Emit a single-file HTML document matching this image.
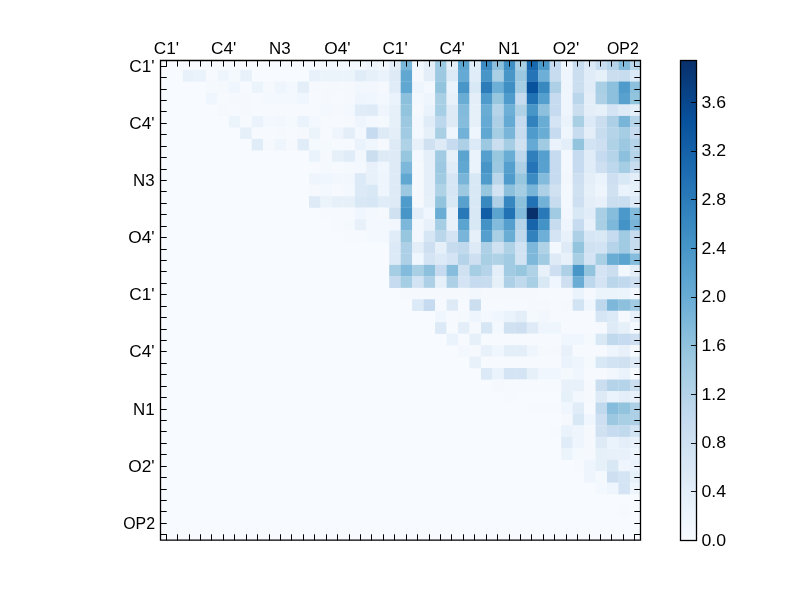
<!DOCTYPE html>
<html><head><meta charset="utf-8"><style>
html,body{margin:0;padding:0;background:#fff;width:800px;height:600px;overflow:hidden}
svg{display:block}
</style></head><body>
<svg width="800" height="600" viewBox="0 0 800 600">
<defs><clipPath id="ax"><rect x="160" y="60" width="480" height="480"/></clipPath></defs>
<rect x="160" y="60" width="480" height="480" fill="#f7fbff"/>
<g clip-path="url(#ax)"><rect x="320.47" y="58.60" width="11.66" height="11.66" fill="#f2f8fd"/><rect x="331.93" y="58.60" width="11.66" height="11.66" fill="#f2f8fd"/><rect x="343.39" y="58.60" width="11.66" height="11.66" fill="#f3f8fe"/><rect x="354.85" y="58.60" width="11.66" height="11.66" fill="#f2f8fd"/><rect x="366.31" y="58.60" width="11.66" height="11.66" fill="#eef5fc"/><rect x="377.78" y="58.60" width="11.66" height="11.66" fill="#f2f7fd"/><rect x="389.24" y="58.60" width="11.66" height="11.66" fill="#e3eef9"/><rect x="400.70" y="58.60" width="11.66" height="11.66" fill="#79b5d9"/><rect x="412.16" y="58.60" width="11.66" height="11.66" fill="#f0f6fd"/><rect x="423.62" y="58.60" width="11.66" height="11.66" fill="#e3eef9"/><rect x="435.09" y="58.60" width="11.66" height="11.66" fill="#9cc9e1"/><rect x="446.55" y="58.60" width="11.66" height="11.66" fill="#e3eef9"/><rect x="458.01" y="58.60" width="11.66" height="11.66" fill="#5ca4d0"/><rect x="469.47" y="58.60" width="11.66" height="11.66" fill="#e0ecf8"/><rect x="480.93" y="58.60" width="11.66" height="11.66" fill="#3c8cc3"/><rect x="492.40" y="58.60" width="11.66" height="11.66" fill="#8cc0dd"/><rect x="503.86" y="58.60" width="11.66" height="11.66" fill="#3f8fc5"/><rect x="515.32" y="58.60" width="11.66" height="11.66" fill="#a9cfe5"/><rect x="526.78" y="58.60" width="11.66" height="11.66" fill="#1967ad"/><rect x="538.24" y="58.60" width="11.66" height="11.66" fill="#4b98ca"/><rect x="549.70" y="58.60" width="11.66" height="11.66" fill="#c6dbef"/><rect x="561.17" y="58.60" width="11.66" height="11.66" fill="#eef5fc"/><rect x="572.63" y="58.60" width="11.66" height="11.66" fill="#c8dcf0"/><rect x="584.09" y="58.60" width="11.66" height="11.66" fill="#dce9f6"/><rect x="595.55" y="58.60" width="11.66" height="11.66" fill="#c8dcf0"/><rect x="607.01" y="58.60" width="11.66" height="11.66" fill="#b5d4e9"/><rect x="618.48" y="58.60" width="11.66" height="11.66" fill="#82bbdb"/><rect x="629.94" y="58.60" width="11.66" height="11.66" fill="#b9d6ea"/><rect x="182.92" y="70.06" width="11.66" height="11.66" fill="#e8f1fa"/><rect x="194.39" y="70.06" width="11.66" height="11.66" fill="#eaf3fb"/><rect x="205.85" y="70.06" width="11.66" height="11.66" fill="#f6faff"/><rect x="217.31" y="70.06" width="11.66" height="11.66" fill="#eef5fc"/><rect x="228.77" y="70.06" width="11.66" height="11.66" fill="#f4f9fe"/><rect x="240.23" y="70.06" width="11.66" height="11.66" fill="#e8f1fa"/><rect x="309.00" y="70.06" width="11.66" height="11.66" fill="#e8f1fa"/><rect x="320.47" y="70.06" width="11.66" height="11.66" fill="#ecf4fb"/><rect x="331.93" y="70.06" width="11.66" height="11.66" fill="#ecf4fb"/><rect x="343.39" y="70.06" width="11.66" height="11.66" fill="#ecf4fb"/><rect x="354.85" y="70.06" width="11.66" height="11.66" fill="#e0ecf8"/><rect x="366.31" y="70.06" width="11.66" height="11.66" fill="#e6f0f9"/><rect x="377.78" y="70.06" width="11.66" height="11.66" fill="#eaf3fb"/><rect x="389.24" y="70.06" width="11.66" height="11.66" fill="#deebf7"/><rect x="400.70" y="70.06" width="11.66" height="11.66" fill="#60a7d2"/><rect x="412.16" y="70.06" width="11.66" height="11.66" fill="#f5f9fe"/><rect x="423.62" y="70.06" width="11.66" height="11.66" fill="#e3eef9"/><rect x="435.09" y="70.06" width="11.66" height="11.66" fill="#9cc9e1"/><rect x="446.55" y="70.06" width="11.66" height="11.66" fill="#dce9f6"/><rect x="458.01" y="70.06" width="11.66" height="11.66" fill="#65aad4"/><rect x="469.47" y="70.06" width="11.66" height="11.66" fill="#e0ecf8"/><rect x="480.93" y="70.06" width="11.66" height="11.66" fill="#4896c8"/><rect x="492.40" y="70.06" width="11.66" height="11.66" fill="#a9cfe5"/><rect x="503.86" y="70.06" width="11.66" height="11.66" fill="#4896c8"/><rect x="515.32" y="70.06" width="11.66" height="11.66" fill="#9cc9e1"/><rect x="526.78" y="70.06" width="11.66" height="11.66" fill="#2474b7"/><rect x="538.24" y="70.06" width="11.66" height="11.66" fill="#6dafd7"/><rect x="549.70" y="70.06" width="11.66" height="11.66" fill="#c8dcf0"/><rect x="561.17" y="70.06" width="11.66" height="11.66" fill="#eef5fc"/><rect x="572.63" y="70.06" width="11.66" height="11.66" fill="#cadef0"/><rect x="584.09" y="70.06" width="11.66" height="11.66" fill="#e0ecf8"/><rect x="595.55" y="70.06" width="11.66" height="11.66" fill="#e6f0f9"/><rect x="607.01" y="70.06" width="11.66" height="11.66" fill="#cadef0"/><rect x="618.48" y="70.06" width="11.66" height="11.66" fill="#c8dcf0"/><rect x="629.94" y="70.06" width="11.66" height="11.66" fill="#dce9f6"/><rect x="205.85" y="81.52" width="11.66" height="11.66" fill="#f4f9fe"/><rect x="217.31" y="81.52" width="11.66" height="11.66" fill="#f5f9fe"/><rect x="228.77" y="81.52" width="11.66" height="11.66" fill="#f0f6fd"/><rect x="240.23" y="81.52" width="11.66" height="11.66" fill="#f6faff"/><rect x="251.70" y="81.52" width="11.66" height="11.66" fill="#ecf4fb"/><rect x="263.16" y="81.52" width="11.66" height="11.66" fill="#f5f9fe"/><rect x="274.62" y="81.52" width="11.66" height="11.66" fill="#eef5fc"/><rect x="286.08" y="81.52" width="11.66" height="11.66" fill="#f3f8fe"/><rect x="297.54" y="81.52" width="11.66" height="11.66" fill="#e3eef9"/><rect x="309.00" y="81.52" width="11.66" height="11.66" fill="#f5f9fe"/><rect x="320.47" y="81.52" width="11.66" height="11.66" fill="#f5f9fe"/><rect x="331.93" y="81.52" width="11.66" height="11.66" fill="#f5f9fe"/><rect x="343.39" y="81.52" width="11.66" height="11.66" fill="#f5f9fe"/><rect x="354.85" y="81.52" width="11.66" height="11.66" fill="#f2f7fd"/><rect x="366.31" y="81.52" width="11.66" height="11.66" fill="#f2f7fd"/><rect x="377.78" y="81.52" width="11.66" height="11.66" fill="#f5f9fe"/><rect x="389.24" y="81.52" width="11.66" height="11.66" fill="#e0ecf8"/><rect x="400.70" y="81.52" width="11.66" height="11.66" fill="#60a7d2"/><rect x="412.16" y="81.52" width="11.66" height="11.66" fill="#eef5fc"/><rect x="423.62" y="81.52" width="11.66" height="11.66" fill="#f2f8fd"/><rect x="435.09" y="81.52" width="11.66" height="11.66" fill="#92c4de"/><rect x="446.55" y="81.52" width="11.66" height="11.66" fill="#eaf3fb"/><rect x="458.01" y="81.52" width="11.66" height="11.66" fill="#4896c8"/><rect x="469.47" y="81.52" width="11.66" height="11.66" fill="#d9e8f5"/><rect x="480.93" y="81.52" width="11.66" height="11.66" fill="#2c7cba"/><rect x="492.40" y="81.52" width="11.66" height="11.66" fill="#6dafd7"/><rect x="503.86" y="81.52" width="11.66" height="11.66" fill="#3f8fc5"/><rect x="515.32" y="81.52" width="11.66" height="11.66" fill="#a5cde3"/><rect x="526.78" y="81.52" width="11.66" height="11.66" fill="#08519c"/><rect x="538.24" y="81.52" width="11.66" height="11.66" fill="#3989c1"/><rect x="549.70" y="81.52" width="11.66" height="11.66" fill="#add0e6"/><rect x="561.17" y="81.52" width="11.66" height="11.66" fill="#eef5fc"/><rect x="572.63" y="81.52" width="11.66" height="11.66" fill="#cadef0"/><rect x="584.09" y="81.52" width="11.66" height="11.66" fill="#e0ecf8"/><rect x="595.55" y="81.52" width="11.66" height="11.66" fill="#a9cfe5"/><rect x="607.01" y="81.52" width="11.66" height="11.66" fill="#8cc0dd"/><rect x="618.48" y="81.52" width="11.66" height="11.66" fill="#4f9bcb"/><rect x="629.94" y="81.52" width="11.66" height="11.66" fill="#8cc0dd"/><rect x="205.85" y="92.99" width="11.66" height="11.66" fill="#f0f6fd"/><rect x="217.31" y="92.99" width="11.66" height="11.66" fill="#f6faff"/><rect x="228.77" y="92.99" width="11.66" height="11.66" fill="#f5f9fe"/><rect x="240.23" y="92.99" width="11.66" height="11.66" fill="#f5f9fe"/><rect x="251.70" y="92.99" width="11.66" height="11.66" fill="#f6faff"/><rect x="263.16" y="92.99" width="11.66" height="11.66" fill="#f3f8fe"/><rect x="274.62" y="92.99" width="11.66" height="11.66" fill="#f2f8fd"/><rect x="286.08" y="92.99" width="11.66" height="11.66" fill="#f2f8fd"/><rect x="297.54" y="92.99" width="11.66" height="11.66" fill="#f0f6fd"/><rect x="309.00" y="92.99" width="11.66" height="11.66" fill="#f6faff"/><rect x="320.47" y="92.99" width="11.66" height="11.66" fill="#f5f9fe"/><rect x="331.93" y="92.99" width="11.66" height="11.66" fill="#f6faff"/><rect x="343.39" y="92.99" width="11.66" height="11.66" fill="#f5f9fe"/><rect x="354.85" y="92.99" width="11.66" height="11.66" fill="#eef5fc"/><rect x="366.31" y="92.99" width="11.66" height="11.66" fill="#f0f6fd"/><rect x="377.78" y="92.99" width="11.66" height="11.66" fill="#f3f8fe"/><rect x="389.24" y="92.99" width="11.66" height="11.66" fill="#eaf3fb"/><rect x="400.70" y="92.99" width="11.66" height="11.66" fill="#8cc0dd"/><rect x="412.16" y="92.99" width="11.66" height="11.66" fill="#f3f8fe"/><rect x="423.62" y="92.99" width="11.66" height="11.66" fill="#eef5fc"/><rect x="435.09" y="92.99" width="11.66" height="11.66" fill="#a9cfe5"/><rect x="446.55" y="92.99" width="11.66" height="11.66" fill="#e8f1fa"/><rect x="458.01" y="92.99" width="11.66" height="11.66" fill="#69add5"/><rect x="469.47" y="92.99" width="11.66" height="11.66" fill="#e3eef9"/><rect x="480.93" y="92.99" width="11.66" height="11.66" fill="#4f9bcb"/><rect x="492.40" y="92.99" width="11.66" height="11.66" fill="#97c6df"/><rect x="503.86" y="92.99" width="11.66" height="11.66" fill="#4f9bcb"/><rect x="515.32" y="92.99" width="11.66" height="11.66" fill="#c6dbef"/><rect x="526.78" y="92.99" width="11.66" height="11.66" fill="#2171b5"/><rect x="538.24" y="92.99" width="11.66" height="11.66" fill="#549fcd"/><rect x="549.70" y="92.99" width="11.66" height="11.66" fill="#c6dbef"/><rect x="561.17" y="92.99" width="11.66" height="11.66" fill="#eef5fc"/><rect x="572.63" y="92.99" width="11.66" height="11.66" fill="#b9d6ea"/><rect x="584.09" y="92.99" width="11.66" height="11.66" fill="#e3eef9"/><rect x="595.55" y="92.99" width="11.66" height="11.66" fill="#add0e6"/><rect x="607.01" y="92.99" width="11.66" height="11.66" fill="#8cc0dd"/><rect x="618.48" y="92.99" width="11.66" height="11.66" fill="#58a1cf"/><rect x="629.94" y="92.99" width="11.66" height="11.66" fill="#92c4de"/><rect x="217.31" y="104.45" width="11.66" height="11.66" fill="#f5f9fe"/><rect x="228.77" y="104.45" width="11.66" height="11.66" fill="#f6faff"/><rect x="240.23" y="104.45" width="11.66" height="11.66" fill="#f5f9fe"/><rect x="251.70" y="104.45" width="11.66" height="11.66" fill="#f6faff"/><rect x="263.16" y="104.45" width="11.66" height="11.66" fill="#f6faff"/><rect x="274.62" y="104.45" width="11.66" height="11.66" fill="#f6faff"/><rect x="286.08" y="104.45" width="11.66" height="11.66" fill="#f6faff"/><rect x="297.54" y="104.45" width="11.66" height="11.66" fill="#f6faff"/><rect x="309.00" y="104.45" width="11.66" height="11.66" fill="#f6faff"/><rect x="320.47" y="104.45" width="11.66" height="11.66" fill="#f2f8fd"/><rect x="331.93" y="104.45" width="11.66" height="11.66" fill="#f5f9fe"/><rect x="343.39" y="104.45" width="11.66" height="11.66" fill="#f3f8fe"/><rect x="354.85" y="104.45" width="11.66" height="11.66" fill="#e0ecf8"/><rect x="366.31" y="104.45" width="11.66" height="11.66" fill="#deebf7"/><rect x="377.78" y="104.45" width="11.66" height="11.66" fill="#eef5fc"/><rect x="389.24" y="104.45" width="11.66" height="11.66" fill="#e6f0f9"/><rect x="400.70" y="104.45" width="11.66" height="11.66" fill="#92c4de"/><rect x="412.16" y="104.45" width="11.66" height="11.66" fill="#f5f9fe"/><rect x="423.62" y="104.45" width="11.66" height="11.66" fill="#eaf3fb"/><rect x="435.09" y="104.45" width="11.66" height="11.66" fill="#a6cee4"/><rect x="446.55" y="104.45" width="11.66" height="11.66" fill="#deebf7"/><rect x="458.01" y="104.45" width="11.66" height="11.66" fill="#82bbdb"/><rect x="469.47" y="104.45" width="11.66" height="11.66" fill="#e6f0f9"/><rect x="480.93" y="104.45" width="11.66" height="11.66" fill="#69add5"/><rect x="492.40" y="104.45" width="11.66" height="11.66" fill="#b5d4e9"/><rect x="503.86" y="104.45" width="11.66" height="11.66" fill="#6dafd7"/><rect x="515.32" y="104.45" width="11.66" height="11.66" fill="#b0d2e7"/><rect x="526.78" y="104.45" width="11.66" height="11.66" fill="#4896c8"/><rect x="538.24" y="104.45" width="11.66" height="11.66" fill="#8cc0dd"/><rect x="549.70" y="104.45" width="11.66" height="11.66" fill="#c6dbef"/><rect x="561.17" y="104.45" width="11.66" height="11.66" fill="#eef5fc"/><rect x="572.63" y="104.45" width="11.66" height="11.66" fill="#cadef0"/><rect x="584.09" y="104.45" width="11.66" height="11.66" fill="#e3eef9"/><rect x="595.55" y="104.45" width="11.66" height="11.66" fill="#e6f0f9"/><rect x="607.01" y="104.45" width="11.66" height="11.66" fill="#d4e4f4"/><rect x="618.48" y="104.45" width="11.66" height="11.66" fill="#deebf7"/><rect x="629.94" y="104.45" width="11.66" height="11.66" fill="#e3eef9"/><rect x="228.77" y="115.91" width="11.66" height="11.66" fill="#ecf4fb"/><rect x="240.23" y="115.91" width="11.66" height="11.66" fill="#f6faff"/><rect x="251.70" y="115.91" width="11.66" height="11.66" fill="#eaf3fb"/><rect x="263.16" y="115.91" width="11.66" height="11.66" fill="#f3f8fe"/><rect x="274.62" y="115.91" width="11.66" height="11.66" fill="#f2f7fd"/><rect x="286.08" y="115.91" width="11.66" height="11.66" fill="#f4f9fe"/><rect x="297.54" y="115.91" width="11.66" height="11.66" fill="#eaf3fb"/><rect x="309.00" y="115.91" width="11.66" height="11.66" fill="#f3f8fe"/><rect x="320.47" y="115.91" width="11.66" height="11.66" fill="#f6faff"/><rect x="331.93" y="115.91" width="11.66" height="11.66" fill="#f6faff"/><rect x="343.39" y="115.91" width="11.66" height="11.66" fill="#f5f9fe"/><rect x="354.85" y="115.91" width="11.66" height="11.66" fill="#eef5fc"/><rect x="366.31" y="115.91" width="11.66" height="11.66" fill="#f3f8fe"/><rect x="377.78" y="115.91" width="11.66" height="11.66" fill="#f4f9fe"/><rect x="389.24" y="115.91" width="11.66" height="11.66" fill="#e6f0f9"/><rect x="400.70" y="115.91" width="11.66" height="11.66" fill="#9cc9e1"/><rect x="412.16" y="115.91" width="11.66" height="11.66" fill="#f2f8fd"/><rect x="423.62" y="115.91" width="11.66" height="11.66" fill="#e0ecf8"/><rect x="435.09" y="115.91" width="11.66" height="11.66" fill="#bdd7ec"/><rect x="446.55" y="115.91" width="11.66" height="11.66" fill="#deebf7"/><rect x="458.01" y="115.91" width="11.66" height="11.66" fill="#87bddc"/><rect x="469.47" y="115.91" width="11.66" height="11.66" fill="#e6f0f9"/><rect x="480.93" y="115.91" width="11.66" height="11.66" fill="#65aad4"/><rect x="492.40" y="115.91" width="11.66" height="11.66" fill="#add0e6"/><rect x="503.86" y="115.91" width="11.66" height="11.66" fill="#65aad4"/><rect x="515.32" y="115.91" width="11.66" height="11.66" fill="#c6dbef"/><rect x="526.78" y="115.91" width="11.66" height="11.66" fill="#3282be"/><rect x="538.24" y="115.91" width="11.66" height="11.66" fill="#69add5"/><rect x="549.70" y="115.91" width="11.66" height="11.66" fill="#d4e4f4"/><rect x="561.17" y="115.91" width="11.66" height="11.66" fill="#eaf3fb"/><rect x="572.63" y="115.91" width="11.66" height="11.66" fill="#a9cfe5"/><rect x="584.09" y="115.91" width="11.66" height="11.66" fill="#dce9f6"/><rect x="595.55" y="115.91" width="11.66" height="11.66" fill="#cadef0"/><rect x="607.01" y="115.91" width="11.66" height="11.66" fill="#add0e6"/><rect x="618.48" y="115.91" width="11.66" height="11.66" fill="#79b5d9"/><rect x="629.94" y="115.91" width="11.66" height="11.66" fill="#b5d4e9"/><rect x="240.23" y="127.37" width="11.66" height="11.66" fill="#e6f0f9"/><rect x="251.70" y="127.37" width="11.66" height="11.66" fill="#f6faff"/><rect x="263.16" y="127.37" width="11.66" height="11.66" fill="#f6faff"/><rect x="274.62" y="127.37" width="11.66" height="11.66" fill="#f5f9fe"/><rect x="286.08" y="127.37" width="11.66" height="11.66" fill="#f6faff"/><rect x="297.54" y="127.37" width="11.66" height="11.66" fill="#f5f9fe"/><rect x="309.00" y="127.37" width="11.66" height="11.66" fill="#ecf4fb"/><rect x="320.47" y="127.37" width="11.66" height="11.66" fill="#f6faff"/><rect x="331.93" y="127.37" width="11.66" height="11.66" fill="#eef5fc"/><rect x="343.39" y="127.37" width="11.66" height="11.66" fill="#e3eef9"/><rect x="354.85" y="127.37" width="11.66" height="11.66" fill="#f2f8fd"/><rect x="366.31" y="127.37" width="11.66" height="11.66" fill="#c6dbef"/><rect x="377.78" y="127.37" width="11.66" height="11.66" fill="#deebf7"/><rect x="389.24" y="127.37" width="11.66" height="11.66" fill="#e3eef9"/><rect x="400.70" y="127.37" width="11.66" height="11.66" fill="#a0cbe2"/><rect x="412.16" y="127.37" width="11.66" height="11.66" fill="#f2f8fd"/><rect x="423.62" y="127.37" width="11.66" height="11.66" fill="#e6f0f9"/><rect x="435.09" y="127.37" width="11.66" height="11.66" fill="#a9cfe5"/><rect x="446.55" y="127.37" width="11.66" height="11.66" fill="#eef5fc"/><rect x="458.01" y="127.37" width="11.66" height="11.66" fill="#72b2d8"/><rect x="469.47" y="127.37" width="11.66" height="11.66" fill="#eef5fc"/><rect x="480.93" y="127.37" width="11.66" height="11.66" fill="#60a7d2"/><rect x="492.40" y="127.37" width="11.66" height="11.66" fill="#a5cde3"/><rect x="503.86" y="127.37" width="11.66" height="11.66" fill="#79b5d9"/><rect x="515.32" y="127.37" width="11.66" height="11.66" fill="#c8dcf0"/><rect x="526.78" y="127.37" width="11.66" height="11.66" fill="#4f9bcb"/><rect x="538.24" y="127.37" width="11.66" height="11.66" fill="#69add5"/><rect x="549.70" y="127.37" width="11.66" height="11.66" fill="#c6dbef"/><rect x="561.17" y="127.37" width="11.66" height="11.66" fill="#eef5fc"/><rect x="572.63" y="127.37" width="11.66" height="11.66" fill="#c8dcf0"/><rect x="584.09" y="127.37" width="11.66" height="11.66" fill="#e3eef9"/><rect x="595.55" y="127.37" width="11.66" height="11.66" fill="#c8dcf0"/><rect x="607.01" y="127.37" width="11.66" height="11.66" fill="#b5d4e9"/><rect x="618.48" y="127.37" width="11.66" height="11.66" fill="#a5cde3"/><rect x="629.94" y="127.37" width="11.66" height="11.66" fill="#c6dbef"/><rect x="251.70" y="138.83" width="11.66" height="11.66" fill="#e0ecf8"/><rect x="263.16" y="138.83" width="11.66" height="11.66" fill="#f5f9fe"/><rect x="274.62" y="138.83" width="11.66" height="11.66" fill="#eef5fc"/><rect x="286.08" y="138.83" width="11.66" height="11.66" fill="#f5f9fe"/><rect x="297.54" y="138.83" width="11.66" height="11.66" fill="#e0ecf8"/><rect x="309.00" y="138.83" width="11.66" height="11.66" fill="#f4f9fe"/><rect x="320.47" y="138.83" width="11.66" height="11.66" fill="#f4f9fe"/><rect x="331.93" y="138.83" width="11.66" height="11.66" fill="#f6faff"/><rect x="343.39" y="138.83" width="11.66" height="11.66" fill="#f6faff"/><rect x="354.85" y="138.83" width="11.66" height="11.66" fill="#eaf3fb"/><rect x="366.31" y="138.83" width="11.66" height="11.66" fill="#f0f6fd"/><rect x="377.78" y="138.83" width="11.66" height="11.66" fill="#f5f9fe"/><rect x="389.24" y="138.83" width="11.66" height="11.66" fill="#deebf7"/><rect x="400.70" y="138.83" width="11.66" height="11.66" fill="#b0d2e7"/><rect x="412.16" y="138.83" width="11.66" height="11.66" fill="#e8f1fa"/><rect x="423.62" y="138.83" width="11.66" height="11.66" fill="#d0e1f2"/><rect x="435.09" y="138.83" width="11.66" height="11.66" fill="#deebf7"/><rect x="446.55" y="138.83" width="11.66" height="11.66" fill="#c6dbef"/><rect x="458.01" y="138.83" width="11.66" height="11.66" fill="#add0e6"/><rect x="469.47" y="138.83" width="11.66" height="11.66" fill="#dce9f6"/><rect x="480.93" y="138.83" width="11.66" height="11.66" fill="#9cc9e1"/><rect x="492.40" y="138.83" width="11.66" height="11.66" fill="#cadef0"/><rect x="503.86" y="138.83" width="11.66" height="11.66" fill="#a5cde3"/><rect x="515.32" y="138.83" width="11.66" height="11.66" fill="#d0e1f2"/><rect x="526.78" y="138.83" width="11.66" height="11.66" fill="#65aad4"/><rect x="538.24" y="138.83" width="11.66" height="11.66" fill="#a0cbe2"/><rect x="549.70" y="138.83" width="11.66" height="11.66" fill="#eaf3fb"/><rect x="561.17" y="138.83" width="11.66" height="11.66" fill="#e3eef9"/><rect x="572.63" y="138.83" width="11.66" height="11.66" fill="#92c4de"/><rect x="584.09" y="138.83" width="11.66" height="11.66" fill="#d2e3f3"/><rect x="595.55" y="138.83" width="11.66" height="11.66" fill="#cddff1"/><rect x="607.01" y="138.83" width="11.66" height="11.66" fill="#b0d2e7"/><rect x="618.48" y="138.83" width="11.66" height="11.66" fill="#9cc9e1"/><rect x="629.94" y="138.83" width="11.66" height="11.66" fill="#b5d4e9"/><rect x="309.00" y="150.30" width="11.66" height="11.66" fill="#eaf3fb"/><rect x="320.47" y="150.30" width="11.66" height="11.66" fill="#f5f9fe"/><rect x="331.93" y="150.30" width="11.66" height="11.66" fill="#e6f0f9"/><rect x="343.39" y="150.30" width="11.66" height="11.66" fill="#e0ecf8"/><rect x="354.85" y="150.30" width="11.66" height="11.66" fill="#f2f7fd"/><rect x="366.31" y="150.30" width="11.66" height="11.66" fill="#cadef0"/><rect x="377.78" y="150.30" width="11.66" height="11.66" fill="#deebf7"/><rect x="389.24" y="150.30" width="11.66" height="11.66" fill="#deebf7"/><rect x="400.70" y="150.30" width="11.66" height="11.66" fill="#97c6df"/><rect x="412.16" y="150.30" width="11.66" height="11.66" fill="#f2f8fd"/><rect x="423.62" y="150.30" width="11.66" height="11.66" fill="#e4eff9"/><rect x="435.09" y="150.30" width="11.66" height="11.66" fill="#a0cbe2"/><rect x="446.55" y="150.30" width="11.66" height="11.66" fill="#e6f0f9"/><rect x="458.01" y="150.30" width="11.66" height="11.66" fill="#5ca4d0"/><rect x="469.47" y="150.30" width="11.66" height="11.66" fill="#eaf3fb"/><rect x="480.93" y="150.30" width="11.66" height="11.66" fill="#549fcd"/><rect x="492.40" y="150.30" width="11.66" height="11.66" fill="#97c6df"/><rect x="503.86" y="150.30" width="11.66" height="11.66" fill="#69add5"/><rect x="515.32" y="150.30" width="11.66" height="11.66" fill="#bdd7ec"/><rect x="526.78" y="150.30" width="11.66" height="11.66" fill="#2f7fbc"/><rect x="538.24" y="150.30" width="11.66" height="11.66" fill="#549fcd"/><rect x="549.70" y="150.30" width="11.66" height="11.66" fill="#c6dbef"/><rect x="561.17" y="150.30" width="11.66" height="11.66" fill="#f2f8fd"/><rect x="572.63" y="150.30" width="11.66" height="11.66" fill="#c6dbef"/><rect x="584.09" y="150.30" width="11.66" height="11.66" fill="#e0ecf8"/><rect x="595.55" y="150.30" width="11.66" height="11.66" fill="#c6dbef"/><rect x="607.01" y="150.30" width="11.66" height="11.66" fill="#b5d4e9"/><rect x="618.48" y="150.30" width="11.66" height="11.66" fill="#8cc0dd"/><rect x="629.94" y="150.30" width="11.66" height="11.66" fill="#b5d4e9"/><rect x="309.00" y="161.76" width="11.66" height="11.66" fill="#f6faff"/><rect x="320.47" y="161.76" width="11.66" height="11.66" fill="#f4f9fe"/><rect x="331.93" y="161.76" width="11.66" height="11.66" fill="#f6faff"/><rect x="343.39" y="161.76" width="11.66" height="11.66" fill="#f4f9fe"/><rect x="354.85" y="161.76" width="11.66" height="11.66" fill="#f2f8fd"/><rect x="366.31" y="161.76" width="11.66" height="11.66" fill="#e8f1fa"/><rect x="377.78" y="161.76" width="11.66" height="11.66" fill="#f0f6fd"/><rect x="389.24" y="161.76" width="11.66" height="11.66" fill="#deebf7"/><rect x="400.70" y="161.76" width="11.66" height="11.66" fill="#7db8da"/><rect x="412.16" y="161.76" width="11.66" height="11.66" fill="#f5f9fe"/><rect x="423.62" y="161.76" width="11.66" height="11.66" fill="#e4eff9"/><rect x="435.09" y="161.76" width="11.66" height="11.66" fill="#9cc9e1"/><rect x="446.55" y="161.76" width="11.66" height="11.66" fill="#e0ecf8"/><rect x="458.01" y="161.76" width="11.66" height="11.66" fill="#60a7d2"/><rect x="469.47" y="161.76" width="11.66" height="11.66" fill="#eaf3fb"/><rect x="480.93" y="161.76" width="11.66" height="11.66" fill="#4896c8"/><rect x="492.40" y="161.76" width="11.66" height="11.66" fill="#9cc9e1"/><rect x="503.86" y="161.76" width="11.66" height="11.66" fill="#549fcd"/><rect x="515.32" y="161.76" width="11.66" height="11.66" fill="#add0e6"/><rect x="526.78" y="161.76" width="11.66" height="11.66" fill="#2474b7"/><rect x="538.24" y="161.76" width="11.66" height="11.66" fill="#58a1cf"/><rect x="549.70" y="161.76" width="11.66" height="11.66" fill="#c6dbef"/><rect x="561.17" y="161.76" width="11.66" height="11.66" fill="#f2f8fd"/><rect x="572.63" y="161.76" width="11.66" height="11.66" fill="#c6dbef"/><rect x="584.09" y="161.76" width="11.66" height="11.66" fill="#e0ecf8"/><rect x="595.55" y="161.76" width="11.66" height="11.66" fill="#cddff1"/><rect x="607.01" y="161.76" width="11.66" height="11.66" fill="#bdd7ec"/><rect x="618.48" y="161.76" width="11.66" height="11.66" fill="#a5cde3"/><rect x="629.94" y="161.76" width="11.66" height="11.66" fill="#c8dcf0"/><rect x="309.00" y="173.22" width="11.66" height="11.66" fill="#eef5fc"/><rect x="320.47" y="173.22" width="11.66" height="11.66" fill="#f0f6fd"/><rect x="331.93" y="173.22" width="11.66" height="11.66" fill="#f2f7fd"/><rect x="343.39" y="173.22" width="11.66" height="11.66" fill="#f2f7fd"/><rect x="354.85" y="173.22" width="11.66" height="11.66" fill="#dce9f6"/><rect x="366.31" y="173.22" width="11.66" height="11.66" fill="#e8f1fa"/><rect x="377.78" y="173.22" width="11.66" height="11.66" fill="#eef5fc"/><rect x="389.24" y="173.22" width="11.66" height="11.66" fill="#deebf7"/><rect x="400.70" y="173.22" width="11.66" height="11.66" fill="#60a7d2"/><rect x="412.16" y="173.22" width="11.66" height="11.66" fill="#f5f9fe"/><rect x="423.62" y="173.22" width="11.66" height="11.66" fill="#e4eff9"/><rect x="435.09" y="173.22" width="11.66" height="11.66" fill="#a0cbe2"/><rect x="446.55" y="173.22" width="11.66" height="11.66" fill="#d6e6f4"/><rect x="458.01" y="173.22" width="11.66" height="11.66" fill="#79b5d9"/><rect x="469.47" y="173.22" width="11.66" height="11.66" fill="#d9e8f5"/><rect x="480.93" y="173.22" width="11.66" height="11.66" fill="#4f9bcb"/><rect x="492.40" y="173.22" width="11.66" height="11.66" fill="#b9d6ea"/><rect x="503.86" y="173.22" width="11.66" height="11.66" fill="#4f9bcb"/><rect x="515.32" y="173.22" width="11.66" height="11.66" fill="#97c6df"/><rect x="526.78" y="173.22" width="11.66" height="11.66" fill="#3c8cc3"/><rect x="538.24" y="173.22" width="11.66" height="11.66" fill="#82bbdb"/><rect x="549.70" y="173.22" width="11.66" height="11.66" fill="#c6dbef"/><rect x="561.17" y="173.22" width="11.66" height="11.66" fill="#f2f7fd"/><rect x="572.63" y="173.22" width="11.66" height="11.66" fill="#cddff1"/><rect x="584.09" y="173.22" width="11.66" height="11.66" fill="#e3eef9"/><rect x="595.55" y="173.22" width="11.66" height="11.66" fill="#eaf3fb"/><rect x="607.01" y="173.22" width="11.66" height="11.66" fill="#cddff1"/><rect x="618.48" y="173.22" width="11.66" height="11.66" fill="#d9e8f5"/><rect x="629.94" y="173.22" width="11.66" height="11.66" fill="#e3eef9"/><rect x="309.00" y="184.68" width="11.66" height="11.66" fill="#f5f9fe"/><rect x="320.47" y="184.68" width="11.66" height="11.66" fill="#f3f8fe"/><rect x="331.93" y="184.68" width="11.66" height="11.66" fill="#f6faff"/><rect x="343.39" y="184.68" width="11.66" height="11.66" fill="#f3f8fe"/><rect x="354.85" y="184.68" width="11.66" height="11.66" fill="#dce9f6"/><rect x="366.31" y="184.68" width="11.66" height="11.66" fill="#d9e8f5"/><rect x="377.78" y="184.68" width="11.66" height="11.66" fill="#eef5fc"/><rect x="389.24" y="184.68" width="11.66" height="11.66" fill="#deebf7"/><rect x="400.70" y="184.68" width="11.66" height="11.66" fill="#9cc9e1"/><rect x="412.16" y="184.68" width="11.66" height="11.66" fill="#f5f9fe"/><rect x="423.62" y="184.68" width="11.66" height="11.66" fill="#e4eff9"/><rect x="435.09" y="184.68" width="11.66" height="11.66" fill="#b0d2e7"/><rect x="446.55" y="184.68" width="11.66" height="11.66" fill="#d6e6f4"/><rect x="458.01" y="184.68" width="11.66" height="11.66" fill="#9cc9e1"/><rect x="469.47" y="184.68" width="11.66" height="11.66" fill="#d9e8f5"/><rect x="480.93" y="184.68" width="11.66" height="11.66" fill="#97c6df"/><rect x="492.40" y="184.68" width="11.66" height="11.66" fill="#d2e3f3"/><rect x="503.86" y="184.68" width="11.66" height="11.66" fill="#8cc0dd"/><rect x="515.32" y="184.68" width="11.66" height="11.66" fill="#a5cde3"/><rect x="526.78" y="184.68" width="11.66" height="11.66" fill="#79b5d9"/><rect x="538.24" y="184.68" width="11.66" height="11.66" fill="#add0e6"/><rect x="549.70" y="184.68" width="11.66" height="11.66" fill="#d0e1f2"/><rect x="561.17" y="184.68" width="11.66" height="11.66" fill="#f2f8fd"/><rect x="572.63" y="184.68" width="11.66" height="11.66" fill="#d0e1f2"/><rect x="584.09" y="184.68" width="11.66" height="11.66" fill="#e6f0f9"/><rect x="595.55" y="184.68" width="11.66" height="11.66" fill="#eef5fc"/><rect x="607.01" y="184.68" width="11.66" height="11.66" fill="#d0e1f2"/><rect x="618.48" y="184.68" width="11.66" height="11.66" fill="#eaf3fb"/><rect x="629.94" y="184.68" width="11.66" height="11.66" fill="#e6f0f9"/><rect x="309.00" y="196.14" width="11.66" height="11.66" fill="#deebf7"/><rect x="320.47" y="196.14" width="11.66" height="11.66" fill="#ecf4fb"/><rect x="331.93" y="196.14" width="11.66" height="11.66" fill="#e6f0f9"/><rect x="343.39" y="196.14" width="11.66" height="11.66" fill="#e6f0f9"/><rect x="354.85" y="196.14" width="11.66" height="11.66" fill="#d9e8f5"/><rect x="366.31" y="196.14" width="11.66" height="11.66" fill="#d6e6f4"/><rect x="377.78" y="196.14" width="11.66" height="11.66" fill="#e0ecf8"/><rect x="389.24" y="196.14" width="11.66" height="11.66" fill="#deebf7"/><rect x="400.70" y="196.14" width="11.66" height="11.66" fill="#4f9bcb"/><rect x="412.16" y="196.14" width="11.66" height="11.66" fill="#f5f9fe"/><rect x="423.62" y="196.14" width="11.66" height="11.66" fill="#e6f0f9"/><rect x="435.09" y="196.14" width="11.66" height="11.66" fill="#92c4de"/><rect x="446.55" y="196.14" width="11.66" height="11.66" fill="#d9e8f5"/><rect x="458.01" y="196.14" width="11.66" height="11.66" fill="#58a1cf"/><rect x="469.47" y="196.14" width="11.66" height="11.66" fill="#d9e8f5"/><rect x="480.93" y="196.14" width="11.66" height="11.66" fill="#3989c1"/><rect x="492.40" y="196.14" width="11.66" height="11.66" fill="#add0e6"/><rect x="503.86" y="196.14" width="11.66" height="11.66" fill="#3686c0"/><rect x="515.32" y="196.14" width="11.66" height="11.66" fill="#8cc0dd"/><rect x="526.78" y="196.14" width="11.66" height="11.66" fill="#2171b5"/><rect x="538.24" y="196.14" width="11.66" height="11.66" fill="#72b2d8"/><rect x="549.70" y="196.14" width="11.66" height="11.66" fill="#c8dcf0"/><rect x="561.17" y="196.14" width="11.66" height="11.66" fill="#f2f8fd"/><rect x="572.63" y="196.14" width="11.66" height="11.66" fill="#cddff1"/><rect x="584.09" y="196.14" width="11.66" height="11.66" fill="#e3eef9"/><rect x="595.55" y="196.14" width="11.66" height="11.66" fill="#e8f1fa"/><rect x="607.01" y="196.14" width="11.66" height="11.66" fill="#cadef0"/><rect x="618.48" y="196.14" width="11.66" height="11.66" fill="#cadef0"/><rect x="629.94" y="196.14" width="11.66" height="11.66" fill="#dce9f6"/><rect x="320.47" y="207.60" width="11.66" height="11.66" fill="#f6faff"/><rect x="331.93" y="207.60" width="11.66" height="11.66" fill="#f6faff"/><rect x="343.39" y="207.60" width="11.66" height="11.66" fill="#f6faff"/><rect x="354.85" y="207.60" width="11.66" height="11.66" fill="#f0f6fd"/><rect x="366.31" y="207.60" width="11.66" height="11.66" fill="#f2f8fd"/><rect x="377.78" y="207.60" width="11.66" height="11.66" fill="#f5f9fe"/><rect x="389.24" y="207.60" width="11.66" height="11.66" fill="#d0e1f2"/><rect x="400.70" y="207.60" width="11.66" height="11.66" fill="#4896c8"/><rect x="412.16" y="207.60" width="11.66" height="11.66" fill="#e3eef9"/><rect x="423.62" y="207.60" width="11.66" height="11.66" fill="#f0f6fd"/><rect x="435.09" y="207.60" width="11.66" height="11.66" fill="#69add5"/><rect x="446.55" y="207.60" width="11.66" height="11.66" fill="#e8f1fa"/><rect x="458.01" y="207.60" width="11.66" height="11.66" fill="#2979b9"/><rect x="469.47" y="207.60" width="11.66" height="11.66" fill="#d9e8f5"/><rect x="480.93" y="207.60" width="11.66" height="11.66" fill="#125ea6"/><rect x="492.40" y="207.60" width="11.66" height="11.66" fill="#5ca4d0"/><rect x="503.86" y="207.60" width="11.66" height="11.66" fill="#2171b5"/><rect x="515.32" y="207.60" width="11.66" height="11.66" fill="#82bbdb"/><rect x="526.78" y="207.60" width="11.66" height="11.66" fill="#08306b"/><rect x="538.24" y="207.60" width="11.66" height="11.66" fill="#2979b9"/><rect x="549.70" y="207.60" width="11.66" height="11.66" fill="#a0cbe2"/><rect x="561.17" y="207.60" width="11.66" height="11.66" fill="#f2f7fd"/><rect x="572.63" y="207.60" width="11.66" height="11.66" fill="#d9e8f5"/><rect x="584.09" y="207.60" width="11.66" height="11.66" fill="#e0ecf8"/><rect x="595.55" y="207.60" width="11.66" height="11.66" fill="#a9cfe5"/><rect x="607.01" y="207.60" width="11.66" height="11.66" fill="#87bddc"/><rect x="618.48" y="207.60" width="11.66" height="11.66" fill="#4b98ca"/><rect x="629.94" y="207.60" width="11.66" height="11.66" fill="#82bbdb"/><rect x="331.93" y="219.07" width="11.66" height="11.66" fill="#f6faff"/><rect x="343.39" y="219.07" width="11.66" height="11.66" fill="#f4f9fe"/><rect x="354.85" y="219.07" width="11.66" height="11.66" fill="#e8f1fa"/><rect x="366.31" y="219.07" width="11.66" height="11.66" fill="#f2f8fd"/><rect x="377.78" y="219.07" width="11.66" height="11.66" fill="#f2f8fd"/><rect x="389.24" y="219.07" width="11.66" height="11.66" fill="#f2f7fd"/><rect x="400.70" y="219.07" width="11.66" height="11.66" fill="#7db8da"/><rect x="412.16" y="219.07" width="11.66" height="11.66" fill="#f2f7fd"/><rect x="423.62" y="219.07" width="11.66" height="11.66" fill="#e8f1fa"/><rect x="435.09" y="219.07" width="11.66" height="11.66" fill="#a5cde3"/><rect x="446.55" y="219.07" width="11.66" height="11.66" fill="#e8f1fa"/><rect x="458.01" y="219.07" width="11.66" height="11.66" fill="#5ca4d0"/><rect x="469.47" y="219.07" width="11.66" height="11.66" fill="#d9e8f5"/><rect x="480.93" y="219.07" width="11.66" height="11.66" fill="#4493c7"/><rect x="492.40" y="219.07" width="11.66" height="11.66" fill="#82bbdb"/><rect x="503.86" y="219.07" width="11.66" height="11.66" fill="#549fcd"/><rect x="515.32" y="219.07" width="11.66" height="11.66" fill="#b5d4e9"/><rect x="526.78" y="219.07" width="11.66" height="11.66" fill="#1764ab"/><rect x="538.24" y="219.07" width="11.66" height="11.66" fill="#4493c7"/><rect x="549.70" y="219.07" width="11.66" height="11.66" fill="#c8dcf0"/><rect x="561.17" y="219.07" width="11.66" height="11.66" fill="#eef5fc"/><rect x="572.63" y="219.07" width="11.66" height="11.66" fill="#c6dbef"/><rect x="584.09" y="219.07" width="11.66" height="11.66" fill="#e8f1fa"/><rect x="595.55" y="219.07" width="11.66" height="11.66" fill="#a9cfe5"/><rect x="607.01" y="219.07" width="11.66" height="11.66" fill="#7db8da"/><rect x="618.48" y="219.07" width="11.66" height="11.66" fill="#4493c7"/><rect x="629.94" y="219.07" width="11.66" height="11.66" fill="#79b5d9"/><rect x="343.39" y="230.53" width="11.66" height="11.66" fill="#f6faff"/><rect x="354.85" y="230.53" width="11.66" height="11.66" fill="#f6faff"/><rect x="366.31" y="230.53" width="11.66" height="11.66" fill="#f2f8fd"/><rect x="377.78" y="230.53" width="11.66" height="11.66" fill="#f2f8fd"/><rect x="389.24" y="230.53" width="11.66" height="11.66" fill="#e0ecf8"/><rect x="400.70" y="230.53" width="11.66" height="11.66" fill="#97c6df"/><rect x="412.16" y="230.53" width="11.66" height="11.66" fill="#f2f7fd"/><rect x="423.62" y="230.53" width="11.66" height="11.66" fill="#d6e6f4"/><rect x="435.09" y="230.53" width="11.66" height="11.66" fill="#b9d6ea"/><rect x="446.55" y="230.53" width="11.66" height="11.66" fill="#d4e4f4"/><rect x="458.01" y="230.53" width="11.66" height="11.66" fill="#79b5d9"/><rect x="469.47" y="230.53" width="11.66" height="11.66" fill="#e6f0f9"/><rect x="480.93" y="230.53" width="11.66" height="11.66" fill="#549fcd"/><rect x="492.40" y="230.53" width="11.66" height="11.66" fill="#a9cfe5"/><rect x="503.86" y="230.53" width="11.66" height="11.66" fill="#69add5"/><rect x="515.32" y="230.53" width="11.66" height="11.66" fill="#c1d9ed"/><rect x="526.78" y="230.53" width="11.66" height="11.66" fill="#3282be"/><rect x="538.24" y="230.53" width="11.66" height="11.66" fill="#6dafd7"/><rect x="549.70" y="230.53" width="11.66" height="11.66" fill="#d4e4f4"/><rect x="561.17" y="230.53" width="11.66" height="11.66" fill="#e8f1fa"/><rect x="572.63" y="230.53" width="11.66" height="11.66" fill="#add0e6"/><rect x="584.09" y="230.53" width="11.66" height="11.66" fill="#d6e6f4"/><rect x="595.55" y="230.53" width="11.66" height="11.66" fill="#d9e8f5"/><rect x="607.01" y="230.53" width="11.66" height="11.66" fill="#c6dbef"/><rect x="618.48" y="230.53" width="11.66" height="11.66" fill="#a0cbe2"/><rect x="629.94" y="230.53" width="11.66" height="11.66" fill="#c8dcf0"/><rect x="389.24" y="241.99" width="11.66" height="11.66" fill="#dce9f6"/><rect x="400.70" y="241.99" width="11.66" height="11.66" fill="#add0e6"/><rect x="412.16" y="241.99" width="11.66" height="11.66" fill="#e3eef9"/><rect x="423.62" y="241.99" width="11.66" height="11.66" fill="#cddff1"/><rect x="435.09" y="241.99" width="11.66" height="11.66" fill="#e6f0f9"/><rect x="446.55" y="241.99" width="11.66" height="11.66" fill="#c8dcf0"/><rect x="458.01" y="241.99" width="11.66" height="11.66" fill="#c1d9ed"/><rect x="469.47" y="241.99" width="11.66" height="11.66" fill="#deebf7"/><rect x="480.93" y="241.99" width="11.66" height="11.66" fill="#add0e6"/><rect x="492.40" y="241.99" width="11.66" height="11.66" fill="#d0e1f2"/><rect x="503.86" y="241.99" width="11.66" height="11.66" fill="#b0d2e7"/><rect x="515.32" y="241.99" width="11.66" height="11.66" fill="#d2e3f3"/><rect x="526.78" y="241.99" width="11.66" height="11.66" fill="#7db8da"/><rect x="538.24" y="241.99" width="11.66" height="11.66" fill="#b0d2e7"/><rect x="549.70" y="241.99" width="11.66" height="11.66" fill="#f2f8fd"/><rect x="561.17" y="241.99" width="11.66" height="11.66" fill="#deebf7"/><rect x="572.63" y="241.99" width="11.66" height="11.66" fill="#92c4de"/><rect x="584.09" y="241.99" width="11.66" height="11.66" fill="#d0e1f2"/><rect x="595.55" y="241.99" width="11.66" height="11.66" fill="#d2e3f3"/><rect x="607.01" y="241.99" width="11.66" height="11.66" fill="#b5d4e9"/><rect x="618.48" y="241.99" width="11.66" height="11.66" fill="#a0cbe2"/><rect x="629.94" y="241.99" width="11.66" height="11.66" fill="#c8dcf0"/><rect x="389.24" y="253.45" width="11.66" height="11.66" fill="#dce9f6"/><rect x="400.70" y="253.45" width="11.66" height="11.66" fill="#add0e6"/><rect x="412.16" y="253.45" width="11.66" height="11.66" fill="#f0f6fd"/><rect x="423.62" y="253.45" width="11.66" height="11.66" fill="#d4e4f4"/><rect x="435.09" y="253.45" width="11.66" height="11.66" fill="#dce9f6"/><rect x="446.55" y="253.45" width="11.66" height="11.66" fill="#d4e4f4"/><rect x="458.01" y="253.45" width="11.66" height="11.66" fill="#b5d4e9"/><rect x="469.47" y="253.45" width="11.66" height="11.66" fill="#cddff1"/><rect x="480.93" y="253.45" width="11.66" height="11.66" fill="#a9cfe5"/><rect x="492.40" y="253.45" width="11.66" height="11.66" fill="#b0d2e7"/><rect x="503.86" y="253.45" width="11.66" height="11.66" fill="#a0cbe2"/><rect x="515.32" y="253.45" width="11.66" height="11.66" fill="#d2e3f3"/><rect x="526.78" y="253.45" width="11.66" height="11.66" fill="#7db8da"/><rect x="538.24" y="253.45" width="11.66" height="11.66" fill="#a0cbe2"/><rect x="549.70" y="253.45" width="11.66" height="11.66" fill="#deebf7"/><rect x="561.17" y="253.45" width="11.66" height="11.66" fill="#e8f1fa"/><rect x="572.63" y="253.45" width="11.66" height="11.66" fill="#a9cfe5"/><rect x="584.09" y="253.45" width="11.66" height="11.66" fill="#d4e4f4"/><rect x="595.55" y="253.45" width="11.66" height="11.66" fill="#a9cfe5"/><rect x="607.01" y="253.45" width="11.66" height="11.66" fill="#69add5"/><rect x="618.48" y="253.45" width="11.66" height="11.66" fill="#5ca4d0"/><rect x="629.94" y="253.45" width="11.66" height="11.66" fill="#87bddc"/><rect x="389.24" y="264.91" width="11.66" height="11.66" fill="#a5cde3"/><rect x="400.70" y="264.91" width="11.66" height="11.66" fill="#82bbdb"/><rect x="412.16" y="264.91" width="11.66" height="11.66" fill="#a9cfe5"/><rect x="423.62" y="264.91" width="11.66" height="11.66" fill="#8cc0dd"/><rect x="435.09" y="264.91" width="11.66" height="11.66" fill="#c6dbef"/><rect x="446.55" y="264.91" width="11.66" height="11.66" fill="#87bddc"/><rect x="458.01" y="264.91" width="11.66" height="11.66" fill="#d0e1f2"/><rect x="469.47" y="264.91" width="11.66" height="11.66" fill="#a5cde3"/><rect x="480.93" y="264.91" width="11.66" height="11.66" fill="#b5d4e9"/><rect x="492.40" y="264.91" width="11.66" height="11.66" fill="#e3eef9"/><rect x="503.86" y="264.91" width="11.66" height="11.66" fill="#a0cbe2"/><rect x="515.32" y="264.91" width="11.66" height="11.66" fill="#97c6df"/><rect x="526.78" y="264.91" width="11.66" height="11.66" fill="#b0d2e7"/><rect x="538.24" y="264.91" width="11.66" height="11.66" fill="#e8f1fa"/><rect x="549.70" y="264.91" width="11.66" height="11.66" fill="#cddff1"/><rect x="561.17" y="264.91" width="11.66" height="11.66" fill="#add0e6"/><rect x="572.63" y="264.91" width="11.66" height="11.66" fill="#4896c8"/><rect x="584.09" y="264.91" width="11.66" height="11.66" fill="#92c4de"/><rect x="595.55" y="264.91" width="11.66" height="11.66" fill="#d4e4f4"/><rect x="607.01" y="264.91" width="11.66" height="11.66" fill="#cadef0"/><rect x="618.48" y="264.91" width="11.66" height="11.66" fill="#f2f7fd"/><rect x="629.94" y="264.91" width="11.66" height="11.66" fill="#e3eef9"/><rect x="389.24" y="276.38" width="11.66" height="11.66" fill="#c6dbef"/><rect x="400.70" y="276.38" width="11.66" height="11.66" fill="#a5cde3"/><rect x="412.16" y="276.38" width="11.66" height="11.66" fill="#d2e3f3"/><rect x="423.62" y="276.38" width="11.66" height="11.66" fill="#add0e6"/><rect x="435.09" y="276.38" width="11.66" height="11.66" fill="#e6f0f9"/><rect x="446.55" y="276.38" width="11.66" height="11.66" fill="#add0e6"/><rect x="458.01" y="276.38" width="11.66" height="11.66" fill="#d4e4f4"/><rect x="469.47" y="276.38" width="11.66" height="11.66" fill="#c6dbef"/><rect x="480.93" y="276.38" width="11.66" height="11.66" fill="#c8dcf0"/><rect x="492.40" y="276.38" width="11.66" height="11.66" fill="#e6f0f9"/><rect x="503.86" y="276.38" width="11.66" height="11.66" fill="#add0e6"/><rect x="515.32" y="276.38" width="11.66" height="11.66" fill="#c1d9ed"/><rect x="526.78" y="276.38" width="11.66" height="11.66" fill="#a9cfe5"/><rect x="538.24" y="276.38" width="11.66" height="11.66" fill="#d9e8f5"/><rect x="549.70" y="276.38" width="11.66" height="11.66" fill="#f0f6fd"/><rect x="561.17" y="276.38" width="11.66" height="11.66" fill="#cddff1"/><rect x="572.63" y="276.38" width="11.66" height="11.66" fill="#69add5"/><rect x="584.09" y="276.38" width="11.66" height="11.66" fill="#bdd7ec"/><rect x="595.55" y="276.38" width="11.66" height="11.66" fill="#d4e4f4"/><rect x="607.01" y="276.38" width="11.66" height="11.66" fill="#b9d6ea"/><rect x="618.48" y="276.38" width="11.66" height="11.66" fill="#c1d9ed"/><rect x="629.94" y="276.38" width="11.66" height="11.66" fill="#cddff1"/><rect x="400.70" y="287.84" width="11.66" height="11.66" fill="#f5f9fe"/><rect x="412.16" y="287.84" width="11.66" height="11.66" fill="#f5f9fe"/><rect x="423.62" y="287.84" width="11.66" height="11.66" fill="#f5f9fe"/><rect x="435.09" y="287.84" width="11.66" height="11.66" fill="#f5f9fe"/><rect x="446.55" y="287.84" width="11.66" height="11.66" fill="#f5f9fe"/><rect x="458.01" y="287.84" width="11.66" height="11.66" fill="#f5f9fe"/><rect x="469.47" y="287.84" width="11.66" height="11.66" fill="#f2f7fd"/><rect x="480.93" y="287.84" width="11.66" height="11.66" fill="#f5f9fe"/><rect x="492.40" y="287.84" width="11.66" height="11.66" fill="#f5f9fe"/><rect x="503.86" y="287.84" width="11.66" height="11.66" fill="#f5f9fe"/><rect x="515.32" y="287.84" width="11.66" height="11.66" fill="#f5f9fe"/><rect x="526.78" y="287.84" width="11.66" height="11.66" fill="#f5f9fe"/><rect x="538.24" y="287.84" width="11.66" height="11.66" fill="#f6faff"/><rect x="549.70" y="287.84" width="11.66" height="11.66" fill="#f6faff"/><rect x="561.17" y="287.84" width="11.66" height="11.66" fill="#f6faff"/><rect x="572.63" y="287.84" width="11.66" height="11.66" fill="#eaf3fb"/><rect x="584.09" y="287.84" width="11.66" height="11.66" fill="#f5f9fe"/><rect x="595.55" y="287.84" width="11.66" height="11.66" fill="#ecf4fb"/><rect x="607.01" y="287.84" width="11.66" height="11.66" fill="#ecf4fb"/><rect x="618.48" y="287.84" width="11.66" height="11.66" fill="#ecf4fb"/><rect x="629.94" y="287.84" width="11.66" height="11.66" fill="#f3f8fe"/><rect x="412.16" y="299.30" width="11.66" height="11.66" fill="#dce9f6"/><rect x="423.62" y="299.30" width="11.66" height="11.66" fill="#c6dbef"/><rect x="435.09" y="299.30" width="11.66" height="11.66" fill="#f6faff"/><rect x="446.55" y="299.30" width="11.66" height="11.66" fill="#deebf7"/><rect x="458.01" y="299.30" width="11.66" height="11.66" fill="#f6faff"/><rect x="469.47" y="299.30" width="11.66" height="11.66" fill="#cadef0"/><rect x="480.93" y="299.30" width="11.66" height="11.66" fill="#f6faff"/><rect x="492.40" y="299.30" width="11.66" height="11.66" fill="#f6faff"/><rect x="503.86" y="299.30" width="11.66" height="11.66" fill="#f6faff"/><rect x="515.32" y="299.30" width="11.66" height="11.66" fill="#f6faff"/><rect x="526.78" y="299.30" width="11.66" height="11.66" fill="#f5f9fe"/><rect x="538.24" y="299.30" width="11.66" height="11.66" fill="#f5f9fe"/><rect x="549.70" y="299.30" width="11.66" height="11.66" fill="#f6faff"/><rect x="561.17" y="299.30" width="11.66" height="11.66" fill="#f5f9fe"/><rect x="572.63" y="299.30" width="11.66" height="11.66" fill="#d2e3f3"/><rect x="584.09" y="299.30" width="11.66" height="11.66" fill="#f0f6fd"/><rect x="595.55" y="299.30" width="11.66" height="11.66" fill="#bdd7ec"/><rect x="607.01" y="299.30" width="11.66" height="11.66" fill="#7db8da"/><rect x="618.48" y="299.30" width="11.66" height="11.66" fill="#8cc0dd"/><rect x="629.94" y="299.30" width="11.66" height="11.66" fill="#a0cbe2"/><rect x="435.09" y="310.76" width="11.66" height="11.66" fill="#f0f6fd"/><rect x="446.55" y="310.76" width="11.66" height="11.66" fill="#f6faff"/><rect x="458.01" y="310.76" width="11.66" height="11.66" fill="#f4f9fe"/><rect x="469.47" y="310.76" width="11.66" height="11.66" fill="#eef5fc"/><rect x="480.93" y="310.76" width="11.66" height="11.66" fill="#f2f8fd"/><rect x="492.40" y="310.76" width="11.66" height="11.66" fill="#f0f6fd"/><rect x="503.86" y="310.76" width="11.66" height="11.66" fill="#eaf3fb"/><rect x="515.32" y="310.76" width="11.66" height="11.66" fill="#e3eef9"/><rect x="526.78" y="310.76" width="11.66" height="11.66" fill="#f4f9fe"/><rect x="538.24" y="310.76" width="11.66" height="11.66" fill="#f2f7fd"/><rect x="549.70" y="310.76" width="11.66" height="11.66" fill="#f6faff"/><rect x="561.17" y="310.76" width="11.66" height="11.66" fill="#f6faff"/><rect x="572.63" y="310.76" width="11.66" height="11.66" fill="#f6faff"/><rect x="584.09" y="310.76" width="11.66" height="11.66" fill="#f6faff"/><rect x="595.55" y="310.76" width="11.66" height="11.66" fill="#d6e6f4"/><rect x="607.01" y="310.76" width="11.66" height="11.66" fill="#dce9f6"/><rect x="618.48" y="310.76" width="11.66" height="11.66" fill="#f5f9fe"/><rect x="629.94" y="310.76" width="11.66" height="11.66" fill="#e8f1fa"/><rect x="435.09" y="322.22" width="11.66" height="11.66" fill="#dce9f6"/><rect x="446.55" y="322.22" width="11.66" height="11.66" fill="#f6faff"/><rect x="458.01" y="322.22" width="11.66" height="11.66" fill="#e3eef9"/><rect x="469.47" y="322.22" width="11.66" height="11.66" fill="#f5f9fe"/><rect x="480.93" y="322.22" width="11.66" height="11.66" fill="#d6e6f4"/><rect x="492.40" y="322.22" width="11.66" height="11.66" fill="#f2f8fd"/><rect x="503.86" y="322.22" width="11.66" height="11.66" fill="#d0e1f2"/><rect x="515.32" y="322.22" width="11.66" height="11.66" fill="#cddff1"/><rect x="526.78" y="322.22" width="11.66" height="11.66" fill="#deebf7"/><rect x="538.24" y="322.22" width="11.66" height="11.66" fill="#eef5fc"/><rect x="549.70" y="322.22" width="11.66" height="11.66" fill="#eef5fc"/><rect x="561.17" y="322.22" width="11.66" height="11.66" fill="#f6faff"/><rect x="572.63" y="322.22" width="11.66" height="11.66" fill="#f6faff"/><rect x="584.09" y="322.22" width="11.66" height="11.66" fill="#f6faff"/><rect x="595.55" y="322.22" width="11.66" height="11.66" fill="#f5f9fe"/><rect x="607.01" y="322.22" width="11.66" height="11.66" fill="#deebf7"/><rect x="618.48" y="322.22" width="11.66" height="11.66" fill="#e6f0f9"/><rect x="629.94" y="322.22" width="11.66" height="11.66" fill="#f2f8fd"/><rect x="446.55" y="333.69" width="11.66" height="11.66" fill="#eaf3fb"/><rect x="458.01" y="333.69" width="11.66" height="11.66" fill="#f6faff"/><rect x="469.47" y="333.69" width="11.66" height="11.66" fill="#e6f0f9"/><rect x="480.93" y="333.69" width="11.66" height="11.66" fill="#f6faff"/><rect x="492.40" y="333.69" width="11.66" height="11.66" fill="#f6faff"/><rect x="503.86" y="333.69" width="11.66" height="11.66" fill="#f6faff"/><rect x="515.32" y="333.69" width="11.66" height="11.66" fill="#f6faff"/><rect x="526.78" y="333.69" width="11.66" height="11.66" fill="#f6faff"/><rect x="538.24" y="333.69" width="11.66" height="11.66" fill="#f6faff"/><rect x="549.70" y="333.69" width="11.66" height="11.66" fill="#f6faff"/><rect x="561.17" y="333.69" width="11.66" height="11.66" fill="#f0f6fd"/><rect x="572.63" y="333.69" width="11.66" height="11.66" fill="#f0f6fd"/><rect x="584.09" y="333.69" width="11.66" height="11.66" fill="#f4f9fe"/><rect x="595.55" y="333.69" width="11.66" height="11.66" fill="#d9e8f5"/><rect x="607.01" y="333.69" width="11.66" height="11.66" fill="#c1d9ed"/><rect x="618.48" y="333.69" width="11.66" height="11.66" fill="#c6dbef"/><rect x="629.94" y="333.69" width="11.66" height="11.66" fill="#cddff1"/><rect x="458.01" y="345.15" width="11.66" height="11.66" fill="#f2f8fd"/><rect x="469.47" y="345.15" width="11.66" height="11.66" fill="#f5f9fe"/><rect x="480.93" y="345.15" width="11.66" height="11.66" fill="#e8f1fa"/><rect x="492.40" y="345.15" width="11.66" height="11.66" fill="#f0f6fd"/><rect x="503.86" y="345.15" width="11.66" height="11.66" fill="#e3eef9"/><rect x="515.32" y="345.15" width="11.66" height="11.66" fill="#e3eef9"/><rect x="526.78" y="345.15" width="11.66" height="11.66" fill="#eef5fc"/><rect x="538.24" y="345.15" width="11.66" height="11.66" fill="#f5f9fe"/><rect x="549.70" y="345.15" width="11.66" height="11.66" fill="#f5f9fe"/><rect x="561.17" y="345.15" width="11.66" height="11.66" fill="#e8f1fa"/><rect x="572.63" y="345.15" width="11.66" height="11.66" fill="#f6faff"/><rect x="584.09" y="345.15" width="11.66" height="11.66" fill="#f6faff"/><rect x="595.55" y="345.15" width="11.66" height="11.66" fill="#f6faff"/><rect x="607.01" y="345.15" width="11.66" height="11.66" fill="#eef5fc"/><rect x="618.48" y="345.15" width="11.66" height="11.66" fill="#e8f1fa"/><rect x="629.94" y="345.15" width="11.66" height="11.66" fill="#f5f9fe"/><rect x="469.47" y="356.61" width="11.66" height="11.66" fill="#e8f1fa"/><rect x="480.93" y="356.61" width="11.66" height="11.66" fill="#f6faff"/><rect x="492.40" y="356.61" width="11.66" height="11.66" fill="#f6faff"/><rect x="503.86" y="356.61" width="11.66" height="11.66" fill="#f6faff"/><rect x="515.32" y="356.61" width="11.66" height="11.66" fill="#f6faff"/><rect x="526.78" y="356.61" width="11.66" height="11.66" fill="#f6faff"/><rect x="538.24" y="356.61" width="11.66" height="11.66" fill="#f6faff"/><rect x="549.70" y="356.61" width="11.66" height="11.66" fill="#f6faff"/><rect x="561.17" y="356.61" width="11.66" height="11.66" fill="#eaf3fb"/><rect x="572.63" y="356.61" width="11.66" height="11.66" fill="#eef5fc"/><rect x="584.09" y="356.61" width="11.66" height="11.66" fill="#f4f9fe"/><rect x="595.55" y="356.61" width="11.66" height="11.66" fill="#d9e8f5"/><rect x="607.01" y="356.61" width="11.66" height="11.66" fill="#d2e3f3"/><rect x="618.48" y="356.61" width="11.66" height="11.66" fill="#d0e1f2"/><rect x="629.94" y="356.61" width="11.66" height="11.66" fill="#deebf7"/><rect x="480.93" y="368.07" width="11.66" height="11.66" fill="#dce9f6"/><rect x="492.40" y="368.07" width="11.66" height="11.66" fill="#eaf3fb"/><rect x="503.86" y="368.07" width="11.66" height="11.66" fill="#d4e4f4"/><rect x="515.32" y="368.07" width="11.66" height="11.66" fill="#d4e4f4"/><rect x="526.78" y="368.07" width="11.66" height="11.66" fill="#e6f0f9"/><rect x="538.24" y="368.07" width="11.66" height="11.66" fill="#f0f6fd"/><rect x="549.70" y="368.07" width="11.66" height="11.66" fill="#f0f6fd"/><rect x="561.17" y="368.07" width="11.66" height="11.66" fill="#f4f9fe"/><rect x="572.63" y="368.07" width="11.66" height="11.66" fill="#f0f6fd"/><rect x="584.09" y="368.07" width="11.66" height="11.66" fill="#f6faff"/><rect x="595.55" y="368.07" width="11.66" height="11.66" fill="#f6faff"/><rect x="607.01" y="368.07" width="11.66" height="11.66" fill="#f2f7fd"/><rect x="618.48" y="368.07" width="11.66" height="11.66" fill="#eaf3fb"/><rect x="629.94" y="368.07" width="11.66" height="11.66" fill="#f6faff"/><rect x="492.40" y="379.53" width="11.66" height="11.66" fill="#f5f9fe"/><rect x="503.86" y="379.53" width="11.66" height="11.66" fill="#f6faff"/><rect x="515.32" y="379.53" width="11.66" height="11.66" fill="#f6faff"/><rect x="526.78" y="379.53" width="11.66" height="11.66" fill="#f6faff"/><rect x="538.24" y="379.53" width="11.66" height="11.66" fill="#f6faff"/><rect x="549.70" y="379.53" width="11.66" height="11.66" fill="#f6faff"/><rect x="561.17" y="379.53" width="11.66" height="11.66" fill="#e8f1fa"/><rect x="572.63" y="379.53" width="11.66" height="11.66" fill="#e8f1fa"/><rect x="584.09" y="379.53" width="11.66" height="11.66" fill="#f5f9fe"/><rect x="595.55" y="379.53" width="11.66" height="11.66" fill="#cadef0"/><rect x="607.01" y="379.53" width="11.66" height="11.66" fill="#b5d4e9"/><rect x="618.48" y="379.53" width="11.66" height="11.66" fill="#b5d4e9"/><rect x="629.94" y="379.53" width="11.66" height="11.66" fill="#cadef0"/><rect x="503.86" y="391.00" width="11.66" height="11.66" fill="#f6faff"/><rect x="561.17" y="391.00" width="11.66" height="11.66" fill="#e6f0f9"/><rect x="572.63" y="391.00" width="11.66" height="11.66" fill="#f2f7fd"/><rect x="584.09" y="391.00" width="11.66" height="11.66" fill="#f5f9fe"/><rect x="595.55" y="391.00" width="11.66" height="11.66" fill="#deebf7"/><rect x="607.01" y="391.00" width="11.66" height="11.66" fill="#eaf3fb"/><rect x="618.48" y="391.00" width="11.66" height="11.66" fill="#e3eef9"/><rect x="629.94" y="391.00" width="11.66" height="11.66" fill="#e8f1fa"/><rect x="526.78" y="402.46" width="11.66" height="11.66" fill="#f6faff"/><rect x="538.24" y="402.46" width="11.66" height="11.66" fill="#f6faff"/><rect x="549.70" y="402.46" width="11.66" height="11.66" fill="#f6faff"/><rect x="561.17" y="402.46" width="11.66" height="11.66" fill="#f0f6fd"/><rect x="572.63" y="402.46" width="11.66" height="11.66" fill="#e0ecf8"/><rect x="584.09" y="402.46" width="11.66" height="11.66" fill="#f6faff"/><rect x="595.55" y="402.46" width="11.66" height="11.66" fill="#c1d9ed"/><rect x="607.01" y="402.46" width="11.66" height="11.66" fill="#87bddc"/><rect x="618.48" y="402.46" width="11.66" height="11.66" fill="#92c4de"/><rect x="629.94" y="402.46" width="11.66" height="11.66" fill="#add0e6"/><rect x="561.17" y="413.92" width="11.66" height="11.66" fill="#f5f9fe"/><rect x="572.63" y="413.92" width="11.66" height="11.66" fill="#d9e8f5"/><rect x="584.09" y="413.92" width="11.66" height="11.66" fill="#f0f6fd"/><rect x="595.55" y="413.92" width="11.66" height="11.66" fill="#cddff1"/><rect x="607.01" y="413.92" width="11.66" height="11.66" fill="#9cc9e1"/><rect x="618.48" y="413.92" width="11.66" height="11.66" fill="#a9cfe5"/><rect x="629.94" y="413.92" width="11.66" height="11.66" fill="#add0e6"/><rect x="549.70" y="425.38" width="11.66" height="11.66" fill="#f6faff"/><rect x="561.17" y="425.38" width="11.66" height="11.66" fill="#eaf3fb"/><rect x="572.63" y="425.38" width="11.66" height="11.66" fill="#eef5fc"/><rect x="584.09" y="425.38" width="11.66" height="11.66" fill="#f5f9fe"/><rect x="595.55" y="425.38" width="11.66" height="11.66" fill="#d0e1f2"/><rect x="607.01" y="425.38" width="11.66" height="11.66" fill="#c6dbef"/><rect x="618.48" y="425.38" width="11.66" height="11.66" fill="#c1d9ed"/><rect x="629.94" y="425.38" width="11.66" height="11.66" fill="#d2e3f3"/><rect x="561.17" y="436.84" width="11.66" height="11.66" fill="#e0ecf8"/><rect x="572.63" y="436.84" width="11.66" height="11.66" fill="#eef5fc"/><rect x="584.09" y="436.84" width="11.66" height="11.66" fill="#f5f9fe"/><rect x="595.55" y="436.84" width="11.66" height="11.66" fill="#deebf7"/><rect x="607.01" y="436.84" width="11.66" height="11.66" fill="#eaf3fb"/><rect x="618.48" y="436.84" width="11.66" height="11.66" fill="#e3eef9"/><rect x="629.94" y="436.84" width="11.66" height="11.66" fill="#e8f1fa"/><rect x="561.17" y="448.30" width="11.66" height="11.66" fill="#ecf4fb"/><rect x="572.63" y="448.30" width="11.66" height="11.66" fill="#f4f9fe"/><rect x="584.09" y="448.30" width="11.66" height="11.66" fill="#f5f9fe"/><rect x="595.55" y="448.30" width="11.66" height="11.66" fill="#e6f0f9"/><rect x="607.01" y="448.30" width="11.66" height="11.66" fill="#e8f1fa"/><rect x="618.48" y="448.30" width="11.66" height="11.66" fill="#e8f1fa"/><rect x="629.94" y="448.30" width="11.66" height="11.66" fill="#eef5fc"/><rect x="572.63" y="459.77" width="11.66" height="11.66" fill="#f6faff"/><rect x="584.09" y="459.77" width="11.66" height="11.66" fill="#eef5fc"/><rect x="595.55" y="459.77" width="11.66" height="11.66" fill="#e6f0f9"/><rect x="607.01" y="459.77" width="11.66" height="11.66" fill="#d9e8f5"/><rect x="618.48" y="459.77" width="11.66" height="11.66" fill="#eef5fc"/><rect x="629.94" y="459.77" width="11.66" height="11.66" fill="#eaf3fb"/><rect x="584.09" y="471.23" width="11.66" height="11.66" fill="#eef5fc"/><rect x="595.55" y="471.23" width="11.66" height="11.66" fill="#f4f9fe"/><rect x="607.01" y="471.23" width="11.66" height="11.66" fill="#cddff1"/><rect x="618.48" y="471.23" width="11.66" height="11.66" fill="#d4e4f4"/><rect x="629.94" y="471.23" width="11.66" height="11.66" fill="#e6f0f9"/><rect x="595.55" y="482.69" width="11.66" height="11.66" fill="#f2f8fd"/><rect x="607.01" y="482.69" width="11.66" height="11.66" fill="#eef5fc"/><rect x="618.48" y="482.69" width="11.66" height="11.66" fill="#d4e4f4"/><rect x="629.94" y="482.69" width="11.66" height="11.66" fill="#eef5fc"/><rect x="618.48" y="505.61" width="11.66" height="11.66" fill="#f6faff"/></g>
<path d="M166.50 60V66.6M166.50 540.5V534.3M160 66.50H166.7M640.5 66.50H634.3M177.50 60V66.6M177.50 540.5V534.3M160 77.50H166.7M640.5 77.50H634.3M189.50 60V66.6M189.50 540.5V534.3M160 89.50H166.7M640.5 89.50H634.3M200.50 60V66.6M200.50 540.5V534.3M160 100.50H166.7M640.5 100.50H634.3M211.50 60V66.6M211.50 540.5V534.3M160 111.50H166.7M640.5 111.50H634.3M223.50 60V66.6M223.50 540.5V534.3M160 123.50H166.7M640.5 123.50H634.3M234.50 60V66.6M234.50 540.5V534.3M160 134.50H166.7M640.5 134.50H634.3M246.50 60V66.6M246.50 540.5V534.3M160 146.50H166.7M640.5 146.50H634.3M257.50 60V66.6M257.50 540.5V534.3M160 157.50H166.7M640.5 157.50H634.3M269.50 60V66.6M269.50 540.5V534.3M160 169.50H166.7M640.5 169.50H634.3M280.50 60V66.6M280.50 540.5V534.3M160 180.50H166.7M640.5 180.50H634.3M291.50 60V66.6M291.50 540.5V534.3M160 191.50H166.7M640.5 191.50H634.3M303.50 60V66.6M303.50 540.5V534.3M160 203.50H166.7M640.5 203.50H634.3M314.50 60V66.6M314.50 540.5V534.3M160 214.50H166.7M640.5 214.50H634.3M326.50 60V66.6M326.50 540.5V534.3M160 226.50H166.7M640.5 226.50H634.3M337.50 60V66.6M337.50 540.5V534.3M160 237.50H166.7M640.5 237.50H634.3M349.50 60V66.6M349.50 540.5V534.3M160 249.50H166.7M640.5 249.50H634.3M360.50 60V66.6M360.50 540.5V534.3M160 260.50H166.7M640.5 260.50H634.3M371.50 60V66.6M371.50 540.5V534.3M160 271.50H166.7M640.5 271.50H634.3M383.50 60V66.6M383.50 540.5V534.3M160 283.50H166.7M640.5 283.50H634.3M394.50 60V66.6M394.50 540.5V534.3M160 294.50H166.7M640.5 294.50H634.3M406.50 60V66.6M406.50 540.5V534.3M160 306.50H166.7M640.5 306.50H634.3M417.50 60V66.6M417.50 540.5V534.3M160 317.50H166.7M640.5 317.50H634.3M429.50 60V66.6M429.50 540.5V534.3M160 329.50H166.7M640.5 329.50H634.3M440.50 60V66.6M440.50 540.5V534.3M160 340.50H166.7M640.5 340.50H634.3M451.50 60V66.6M451.50 540.5V534.3M160 351.50H166.7M640.5 351.50H634.3M463.50 60V66.6M463.50 540.5V534.3M160 363.50H166.7M640.5 363.50H634.3M474.50 60V66.6M474.50 540.5V534.3M160 374.50H166.7M640.5 374.50H634.3M486.50 60V66.6M486.50 540.5V534.3M160 386.50H166.7M640.5 386.50H634.3M497.50 60V66.6M497.50 540.5V534.3M160 397.50H166.7M640.5 397.50H634.3M509.50 60V66.6M509.50 540.5V534.3M160 409.50H166.7M640.5 409.50H634.3M520.50 60V66.6M520.50 540.5V534.3M160 420.50H166.7M640.5 420.50H634.3M531.50 60V66.6M531.50 540.5V534.3M160 431.50H166.7M640.5 431.50H634.3M543.50 60V66.6M543.50 540.5V534.3M160 443.50H166.7M640.5 443.50H634.3M554.50 60V66.6M554.50 540.5V534.3M160 454.50H166.7M640.5 454.50H634.3M566.50 60V66.6M566.50 540.5V534.3M160 466.50H166.7M640.5 466.50H634.3M577.50 60V66.6M577.50 540.5V534.3M160 477.50H166.7M640.5 477.50H634.3M589.50 60V66.6M589.50 540.5V534.3M160 489.50H166.7M640.5 489.50H634.3M600.50 60V66.6M600.50 540.5V534.3M160 500.50H166.7M640.5 500.50H634.3M611.50 60V66.6M611.50 540.5V534.3M160 511.50H166.7M640.5 511.50H634.3M623.50 60V66.6M623.50 540.5V534.3M160 523.50H166.7M640.5 523.50H634.3M634.50 60V66.6M634.50 540.5V534.3M160 534.50H166.7M640.5 534.50H634.3" stroke="#000" stroke-width="1" fill="none"/>
<path d="M160.5 60.5H640.5V540.1H160.5Z" fill="none" stroke="#000" stroke-width="1.3"/>
<defs><linearGradient id="g" x1="0" y1="1" x2="0" y2="0"><stop offset="0.0000" stop-color="#f7fbff"/><stop offset="0.1250" stop-color="#deebf7"/><stop offset="0.2500" stop-color="#c6dbef"/><stop offset="0.3750" stop-color="#9ecae1"/><stop offset="0.5000" stop-color="#6baed6"/><stop offset="0.6250" stop-color="#4292c6"/><stop offset="0.7500" stop-color="#2171b5"/><stop offset="0.8750" stop-color="#08519c"/><stop offset="1.0000" stop-color="#08306b"/></linearGradient></defs>
<rect x="680.5" y="60.5" width="16" height="480" fill="url(#g)" stroke="#000" stroke-width="1.3"/>
<path d="M696.50 540.50h-5.56M696.50 491.50h-5.56M696.50 443.50h-5.56M696.50 394.50h-5.56M696.50 345.50h-5.56M696.50 297.50h-5.56M696.50 248.50h-5.56M696.50 199.50h-5.56M696.50 151.50h-5.56M696.50 102.50h-5.56" stroke="#000" stroke-width="0.9" fill="none"/>
<g font-family="Liberation Sans, sans-serif" font-size="16.67" fill="#000" style="filter:grayscale(1)"><text x="153.86" y="54" textLength="25.3" lengthAdjust="spacingAndGlyphs">C1'</text><text x="129.30" y="71.71" textLength="25.3" lengthAdjust="spacingAndGlyphs">C1'</text><text x="211.01" y="54" textLength="25.3" lengthAdjust="spacingAndGlyphs">C4'</text><text x="129.30" y="128.86" textLength="25.3" lengthAdjust="spacingAndGlyphs">C4'</text><text x="269.00" y="54" textLength="21.6" lengthAdjust="spacingAndGlyphs">N3</text><text x="133.00" y="186.00" textLength="21.6" lengthAdjust="spacingAndGlyphs">N3</text><text x="324.24" y="54" textLength="26.4" lengthAdjust="spacingAndGlyphs">O4'</text><text x="128.20" y="243.14" textLength="26.4" lengthAdjust="spacingAndGlyphs">O4'</text><text x="382.44" y="54" textLength="25.3" lengthAdjust="spacingAndGlyphs">C1'</text><text x="129.30" y="300.29" textLength="25.3" lengthAdjust="spacingAndGlyphs">C1'</text><text x="439.58" y="54" textLength="25.3" lengthAdjust="spacingAndGlyphs">C4'</text><text x="129.30" y="357.43" textLength="25.3" lengthAdjust="spacingAndGlyphs">C4'</text><text x="498.37" y="54" textLength="21.6" lengthAdjust="spacingAndGlyphs">N1</text><text x="133.00" y="414.57" textLength="21.6" lengthAdjust="spacingAndGlyphs">N1</text><text x="552.81" y="54" textLength="26.4" lengthAdjust="spacingAndGlyphs">O2'</text><text x="128.20" y="471.71" textLength="26.4" lengthAdjust="spacingAndGlyphs">O2'</text><text x="606.96" y="54" textLength="31.8" lengthAdjust="spacingAndGlyphs">OP2</text><text x="123.20" y="528.86" textLength="31.8" lengthAdjust="spacingAndGlyphs">OP2</text><text x="701.4" y="545.60" textLength="24.6" lengthAdjust="spacingAndGlyphs" font-size="17.2">0.0</text><text x="701.4" y="496.96" textLength="24.6" lengthAdjust="spacingAndGlyphs" font-size="17.2">0.4</text><text x="701.4" y="448.31" textLength="24.6" lengthAdjust="spacingAndGlyphs" font-size="17.2">0.8</text><text x="701.4" y="399.67" textLength="24.6" lengthAdjust="spacingAndGlyphs" font-size="17.2">1.2</text><text x="701.4" y="351.02" textLength="24.6" lengthAdjust="spacingAndGlyphs" font-size="17.2">1.6</text><text x="701.4" y="302.38" textLength="24.6" lengthAdjust="spacingAndGlyphs" font-size="17.2">2.0</text><text x="701.4" y="253.73" textLength="24.6" lengthAdjust="spacingAndGlyphs" font-size="17.2">2.4</text><text x="701.4" y="205.09" textLength="24.6" lengthAdjust="spacingAndGlyphs" font-size="17.2">2.8</text><text x="701.4" y="156.44" textLength="24.6" lengthAdjust="spacingAndGlyphs" font-size="17.2">3.2</text><text x="701.4" y="107.80" textLength="24.6" lengthAdjust="spacingAndGlyphs" font-size="17.2">3.6</text></g>
</svg>
</body></html>
